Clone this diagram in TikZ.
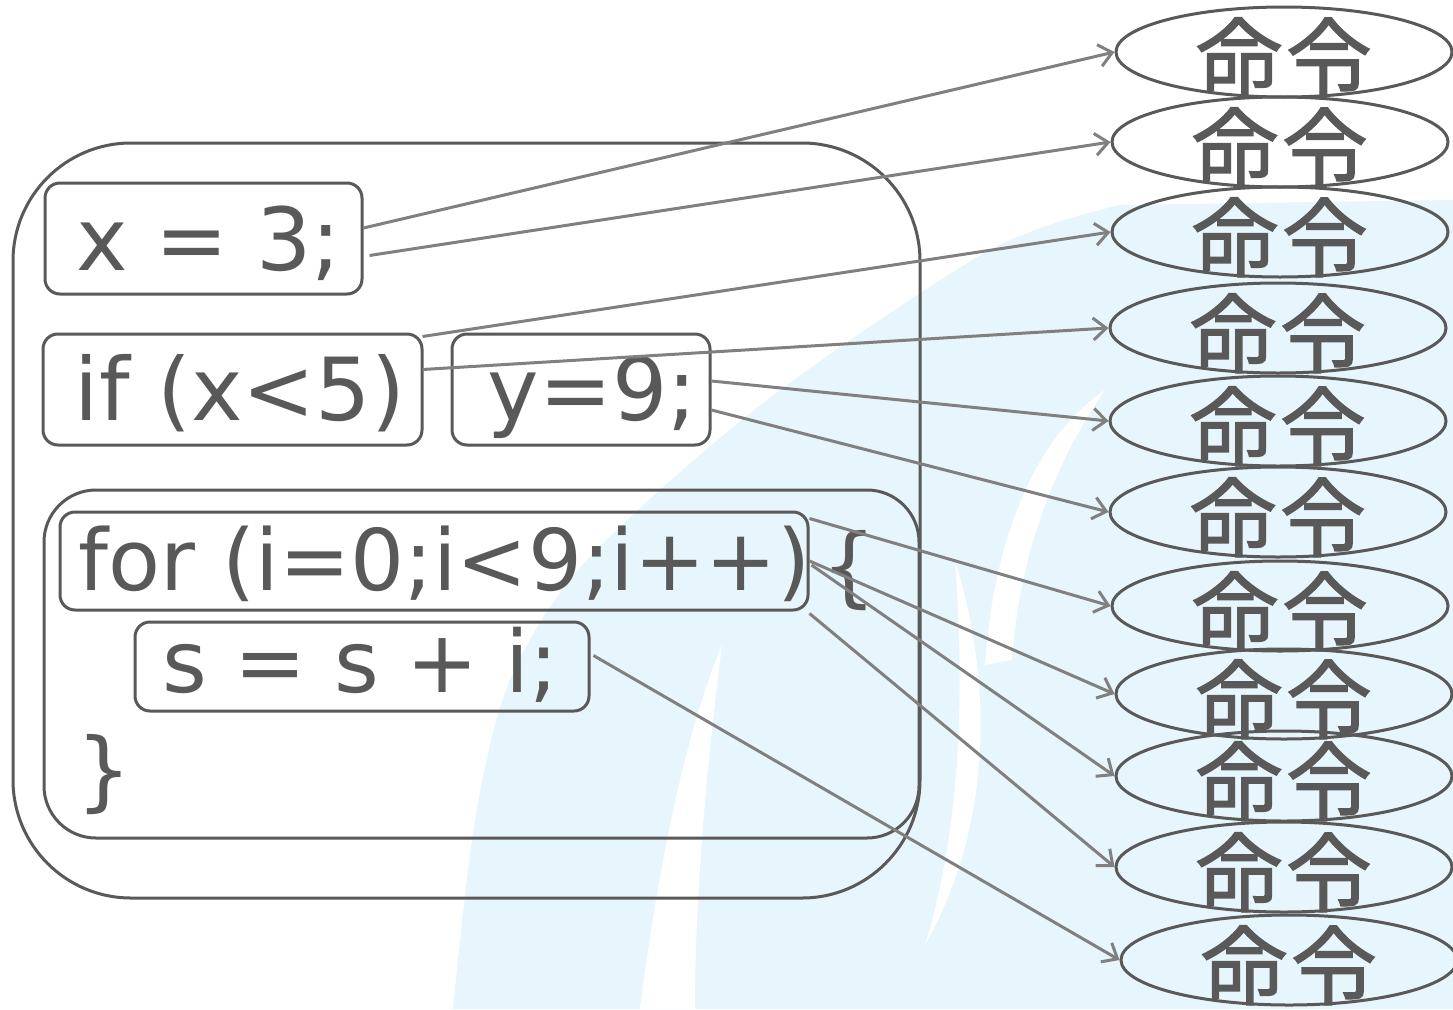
\documentclass[tikz,border=0pt]{standalone}
\usepackage{fontspec}
\setmainfont{DejaVu Sans}
\newfontfamily\cjk{Noto Sans CJK JP}[FakeBold=1.5]
\usetikzlibrary{arrows.meta,shapes.geometric}
\definecolor{ink}{HTML}{595959}
\definecolor{arr}{HTML}{808080}
\definecolor{wmark}{HTML}{E7F5FC}
\newcommand\cpos[3]{\makebox[0pt]{\hspace*{#1}\raisebox{#2}[0pt][0pt]{#3}}}
\begin{document}
\begin{tikzpicture}[x=1pt,y=-1pt,
  codebox/.style={draw=ink, line width=3pt, rounded corners=15pt, text=ink,
    font=\fontsize{87}{95}\selectfont, inner sep=0pt},
  frame/.style={draw=ink, line width=3pt, inner sep=0pt},
  codetext/.style={text=ink, font=\fontsize{87}{95}\selectfont, inner sep=0pt},
  cmd/.style={ellipse, draw=ink, line width=3pt, minimum width=336pt,
    minimum height=90pt, inner sep=0pt, text=ink,
    font=\cjk\fontsize{86}{90}\selectfont},
  conn/.style={draw=arr, line width=3pt,
    -{Straight Barb[length=13pt,width=22pt]}}
]
\useasboundingbox (0,0) rectangle (1453,1009);
\fill[white] (0,0) rectangle (1453,1009);
% faint watermark
\fill[wmark] plot[smooth] coordinates {(453,1009) (475,820) (510,680) (587,560)
  (767,400) (990,250) (1120,205)} -- (1453,200) -- (1453,1009) -- cycle;
\fill[white] (640,1009) .. controls (660,850) and (690,720) .. (722,645)
  .. controls (710,740) and (695,880) .. (695,1009) -- cycle;
\fill[white] (955,560) .. controls (995,690) and (990,830) .. (925,945)
  .. controls (960,830) and (965,700) .. (955,560) -- cycle;
\fill[white] (985,665) .. controls (995,520) and (1045,430) .. (1105,390)
  .. controls (1060,455) and (1020,545) .. (1012,660) -- cycle;

% frames
\node[frame, rounded corners=118pt, minimum width=907pt, minimum height=755pt] (outer) at (466.5,520.5) {};
\node[frame, rounded corners=52pt, minimum width=875pt, minimum height=348pt] (inner) at (481.5,664) {};

% code boxes
\node[codebox, minimum width=317pt, minimum height=111pt] (x3) at (203.5,238.5) {\cpos{11pt}{-31.5pt}{x = 3;}};
\node[codebox, minimum width=379pt, minimum height=111pt] (ifb) at (232.5,389.5) {\cpos{15pt}{-30.5pt}{if (x<5)}};
\node[codebox, minimum width=258pt, minimum height=111pt] (y9) at (581,389.5) {\cpos{23pt}{-30.5pt}{y=9;}};
\node[codebox, minimum width=748pt, minimum height=98pt] (forb) at (434,561) {\cpos{21pt}{-29pt}{\fontsize{85}{90}\selectfont for (i=0;i<9;i++)}};
\node[codebox, minimum width=454pt, minimum height=89pt] (sb) at (362,666.5) {\cpos{-3pt}{-25.5pt}{\fontsize{86}{90}\selectfont s = s + i;}};
\node[codetext, anchor=base west] (lbr) at (821,596) {\{};
\node[codetext, anchor=base west] (rbr) at (76,800) {\}};

% commands
\node[cmd] (e1) at (1284,52) {\cpos{0pt}{-38pt}{命\kern4pt令}};
\node[cmd] (e2) at (1280,142) {\cpos{0pt}{-38pt}{命\kern4pt令}};
\node[cmd] (e3) at (1280,232) {\cpos{0pt}{-38pt}{命\kern4pt令}};
\node[cmd] (e4) at (1278,328) {\cpos{0pt}{-38pt}{命\kern4pt令}};
\node[cmd] (e5) at (1278,421) {\cpos{0pt}{-38pt}{命\kern4pt令}};
\node[cmd] (e6) at (1278,512) {\cpos{0pt}{-38pt}{命\kern4pt令}};
\node[cmd] (e7) at (1280,606) {\cpos{0pt}{-38pt}{命\kern4pt令}};
\node[cmd] (e8) at (1284,694) {\cpos{0pt}{-38pt}{命\kern4pt令}};
\node[cmd] (e9) at (1284,776) {\cpos{0pt}{-38pt}{命\kern4pt令}};
\node[cmd] (e10) at (1284,867) {\cpos{0pt}{-38pt}{命\kern4pt令}};
\node[cmd] (e11) at (1289,960) {\cpos{0pt}{-38pt}{命\kern4pt令}};

% connectors
\draw[conn] ([yshift=10.5pt]x3.east) -- (e1.west);
\draw[conn] ([xshift=6pt,yshift=-17pt]x3.east) -- (e2.west);
\draw[conn] ([xshift=-1pt,yshift=-4pt]ifb.north east) -- (e3.west);
\draw[conn] ([xshift=-1pt,yshift=20pt]ifb.east) -- (e4.west);
\draw[conn] ([yshift=8.5pt]y9.east) -- (e5.west);
\draw[conn] ([yshift=-20.5pt]y9.east) -- (e6.west);
\draw[conn] ([yshift=-8pt]forb.north east) -- (e7.west);
\draw[conn] (forb.east) -- (e8.west);
\draw[conn] ([xshift=2pt,yshift=-4pt]forb.east) -- (e9.west);
\draw[conn] ([yshift=-2pt]forb.south east) -- (e10.west);
\draw[conn] ([xshift=3pt,yshift=11pt]sb.east) -- (e11.west);
\end{tikzpicture}
\end{document}
